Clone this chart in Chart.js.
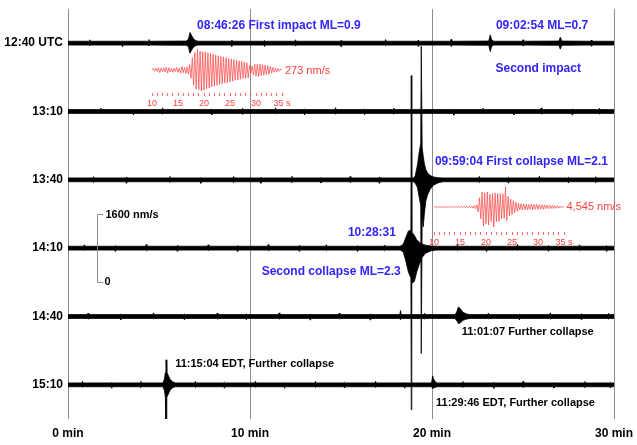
<!DOCTYPE html>
<html lang="en">
<head>
    <meta charset="UTF-8">
    <title>Seismograms, 11 September 2001</title>
    <script src="https://cdn.jsdelivr.net/npm/chart.js@4"></script>
    <style>
        body { margin: 0; background: #fff; }
        #wrap { position: relative; width: 637px; height: 445px; }
        #mainBox { position: absolute; left: 0; top: 0; width: 637px; height: 445px; }
        /* the two red waveform insets sit over the main chart */
        #inset1Box { position: absolute; left: 140px; top: 47px; width: 158px; height: 62px; }
        #inset2Box { position: absolute; left: 422px; top: 182px; width: 158px; height: 66px; }
    </style>
</head>
<body>
<div id="wrap">
    <div id="mainBox"><canvas id="main"></canvas></div>
    <div id="inset1Box"><canvas id="inset1"></canvas></div>
    <div id="inset2Box"><canvas id="inset2"></canvas></div>
</div>

<script>
    // Row start times and x axis ticks
    const rowLabels = ['12:40 UTC', '13:10', '13:40', '14:10', '14:40', '15:10'];
    const minuteTicks = [0, 10, 20, 30];
    const nmPerRow = 1600; // scale bar: 1600 nm/s = one row spacing

    // Trace envelopes: [minute, upper nm/s, lower nm/s]
    const trace1240 = [
        [0, 45, -45], [1.16, 45, -45], [1.2, 80, -55], [1.24, 45, -45],
        [2.96, 45, -45], [3.0, 50, -85], [3.04, 45, -45],
        [4.41, 45, -45], [4.45, 85, -60], [4.49, 45, -45],
        [6.5, 50, -50], [6.62, 95, -85], [6.7, 250, -235], [6.78, 190, -170], [6.88, 110, -100], [7.0, 65, -60], [7.15, 45, -45],
        [8.96, 45, -45], [9.0, 75, -75], [9.04, 45, -45],
        [10.76, 45, -45], [10.8, 60, -80], [10.84, 45, -45],
        [12.46, 45, -45], [12.5, 80, -70], [12.54, 45, -45],
        [14.96, 45, -45], [15.0, 65, -85], [15.04, 45, -45],
        [17.41, 45, -45], [17.45, 85, -60], [17.49, 45, -45],
        [19.21, 45, -45], [19.25, 75, -80], [19.29, 45, -45],
        [21.01, 45, -45], [21.05, 90, -75], [21.09, 45, -45],
        [23.12, 50, -50], [23.2, 195, -195], [23.28, 75, -70], [23.4, 45, -45],
        [24.96, 45, -45], [25.0, 80, -65], [25.04, 45, -45],
        [26.97, 50, -50], [27.05, 140, -140], [27.13, 50, -50],
        [28.71, 45, -45], [28.75, 75, -70], [28.79, 45, -45],
        [30, 45, -45]
    ];
    const trace1310 = [
        [0, 45, -45], [1.76, 45, -45], [1.8, 80, -50], [1.84, 45, -45],
        [3.56, 45, -45], [3.6, 50, -80], [3.64, 45, -45],
        [5.16, 45, -45], [5.2, 85, -60], [5.24, 45, -45],
        [7.86, 45, -45], [7.9, 60, -80], [7.94, 45, -45],
        [9.56, 45, -45], [9.6, 75, -70], [9.64, 45, -45],
        [11.36, 45, -45], [11.4, 85, -55], [11.44, 45, -45],
        [12.96, 45, -45], [13.0, 55, -80], [13.04, 45, -45],
        [14.66, 45, -45], [14.7, 90, -60], [14.74, 45, -45],
        [16.26, 45, -45], [16.3, 60, -75], [16.34, 45, -45],
        [17.86, 45, -45], [17.9, 80, -60], [17.94, 45, -45],
        [21.16, 45, -45], [21.2, 60, -85], [21.24, 45, -45],
        [22.76, 45, -45], [22.8, 80, -55], [22.84, 45, -45],
        [24.46, 45, -45], [24.5, 55, -75], [24.54, 45, -45],
        [25.96, 45, -45], [26.0, 85, -60], [26.04, 45, -45],
        [27.66, 45, -45], [27.7, 60, -80], [27.74, 45, -45],
        [29.16, 45, -45], [29.2, 75, -60], [29.24, 45, -45],
        [30, 45, -45]
    ];
    const trace1340 = [
        [0, 45, -45], [1.36, 45, -45], [1.4, 75, -60], [1.44, 45, -45],
        [3.16, 45, -45], [3.2, 60, -80], [3.24, 45, -45],
        [5.56, 45, -45], [5.6, 80, -55], [5.64, 45, -45],
        [7.26, 45, -45], [7.3, 55, -80], [7.34, 45, -45],
        [9.06, 45, -45], [9.1, 80, -60], [9.14, 45, -45],
        [10.56, 45, -45], [10.6, 60, -80], [10.64, 45, -45],
        [12.26, 45, -45], [12.3, 85, -60], [12.34, 45, -45],
        [13.86, 45, -45], [13.9, 55, -75], [13.94, 45, -45],
        [15.46, 45, -45], [15.5, 80, -60], [15.54, 45, -45],
        [17.06, 45, -45], [17.1, 60, -80], [17.14, 45, -45],
        [19.0, 45, -45], [19.08, 100, -80], [19.2, 350, -180], [19.3, 650, -420], [19.38, 850, -600],
        [19.41, 3130, -4065], [19.43, 3130, -4065],
        [19.46, 750, -850], [19.52, 550, -1100], [19.58, 380, -800], [19.66, 240, -500], [19.76, 160, -350],
        [19.9, 100, -220], [20.1, 65, -120], [20.35, 50, -70], [20.6, 45, -45],
        [22.56, 45, -45], [22.6, 80, -60], [22.64, 45, -45],
        [24.16, 45, -45], [24.2, 55, -80], [24.24, 45, -45],
        [25.86, 45, -45], [25.9, 85, -55], [25.94, 45, -45],
        [27.46, 45, -45], [27.5, 60, -75], [27.54, 45, -45],
        [28.96, 45, -45], [29.0, 75, -60], [29.04, 45, -45],
        [30, 45, -45]
    ];
    const trace1410 = [
        [0, 45, -45], [0.86, 45, -45], [0.9, 80, -55], [0.94, 45, -45],
        [2.56, 45, -45], [2.6, 55, -80], [2.64, 45, -45],
        [4.26, 45, -45], [4.3, 85, -60], [4.34, 45, -45],
        [5.96, 45, -45], [6.0, 60, -75], [6.04, 45, -45],
        [7.66, 45, -45], [7.7, 80, -55], [7.74, 45, -45],
        [9.26, 45, -45], [9.3, 55, -80], [9.34, 45, -45],
        [10.96, 45, -45], [11.0, 85, -60], [11.04, 45, -45],
        [12.66, 45, -45], [12.7, 60, -75], [12.74, 45, -45],
        [14.16, 45, -45], [14.2, 80, -60], [14.24, 45, -45],
        [15.86, 45, -45], [15.9, 55, -80], [15.94, 45, -45],
        [17.36, 45, -45], [17.4, 75, -60], [17.44, 45, -45],
        [18.25, 45, -45], [18.42, 90, -90], [18.56, 250, -300], [18.7, 400, -550], [18.84, 420, -700],
        [18.86, 4040, -3785], [18.88, 4040, -3785],
        [18.9, 380, -820], [19.03, 300, -780], [19.16, 200, -560], [19.3, 140, -380],
        [19.45, 100, -220], [19.65, 70, -120], [19.95, 50, -60], [20.25, 45, -45],
        [21.36, 45, -45], [21.4, 80, -60], [21.44, 45, -45],
        [22.96, 45, -45], [23.0, 55, -80], [23.04, 45, -45],
        [24.66, 45, -45], [24.7, 85, -55], [24.74, 45, -45],
        [26.36, 45, -45], [26.4, 60, -75], [26.44, 45, -45],
        [28.06, 45, -45], [28.1, 80, -60], [28.14, 45, -45],
        [29.56, 45, -45], [29.6, 60, -80], [29.64, 45, -45],
        [30, 45, -45]
    ];
    const trace1440 = [
        [0, 45, -45], [1.06, 45, -45], [1.1, 80, -60], [1.14, 45, -45],
        [2.86, 45, -45], [2.9, 60, -80], [2.94, 45, -45],
        [4.66, 45, -45], [4.7, 85, -55], [4.74, 45, -45],
        [6.36, 45, -45], [6.4, 55, -80], [6.44, 45, -45],
        [8.16, 45, -45], [8.2, 80, -60], [8.24, 45, -45],
        [9.76, 45, -45], [9.8, 60, -75], [9.84, 45, -45],
        [11.56, 45, -45], [11.6, 85, -60], [11.64, 45, -45],
        [13.26, 45, -45], [13.3, 55, -80], [13.34, 45, -45],
        [14.86, 45, -45], [14.9, 80, -55], [14.94, 45, -45],
        [16.56, 45, -45], [16.6, 60, -80], [16.64, 45, -45],
        [18.23, 45, -45], [18.27, 140, -75], [18.31, 45, -45],
        [19.56, 45, -45], [19.6, 75, -60], [19.64, 45, -45],
        [21.25, 45, -45], [21.35, 95, -85], [21.45, 225, -165], [21.55, 185, -155], [21.7, 100, -90], [21.9, 60, -60], [22.1, 45, -45],
        [23.06, 45, -45], [23.1, 80, -55], [23.14, 45, -45],
        [24.76, 45, -45], [24.8, 55, -80], [24.84, 45, -45],
        [26.46, 45, -45], [26.5, 85, -60], [26.54, 45, -45],
        [28.16, 45, -45], [28.2, 60, -75], [28.24, 45, -45],
        [29.66, 45, -45], [29.7, 75, -60], [29.74, 45, -45],
        [30, 45, -45]
    ];
    const trace1510 = [
        [0, 45, -45], [0.76, 45, -45], [0.8, 80, -55], [0.84, 45, -45],
        [2.36, 45, -45], [2.4, 55, -80], [2.44, 45, -45],
        [3.96, 45, -45], [4.0, 85, -60], [4.04, 45, -45],
        [5.22, 45, -45], [5.3, 140, -140], [5.35, 290, -290], [5.38, 585, -855], [5.4, 585, -855],
        [5.43, 300, -290], [5.5, 230, -230], [5.6, 130, -130], [5.75, 70, -70], [5.9, 45, -45],
        [6.96, 45, -45], [7.0, 80, -60], [7.04, 45, -45],
        [8.56, 45, -45], [8.6, 60, -80], [8.64, 45, -45],
        [10.26, 45, -45], [10.3, 85, -55], [10.34, 45, -45],
        [11.86, 45, -45], [11.9, 55, -80], [11.94, 45, -45],
        [13.56, 45, -45], [13.6, 80, -60], [13.64, 45, -45],
        [15.16, 45, -45], [15.2, 60, -75], [15.24, 45, -45],
        [16.86, 45, -45], [16.9, 85, -60], [16.94, 45, -45],
        [18.46, 45, -45], [18.5, 55, -80], [18.54, 45, -45],
        [19.97, 45, -45], [20.04, 210, -85], [20.08, 140, -75], [20.2, 60, -55], [20.3, 45, -45],
        [21.66, 45, -45], [21.7, 80, -55], [21.74, 45, -45],
        [23.36, 45, -45], [23.4, 60, -80], [23.44, 45, -45],
        [24.96, 45, -45], [25.0, 85, -60], [25.04, 45, -45],
        [26.66, 45, -45], [26.7, 55, -75], [26.74, 45, -45],
        [28.36, 45, -45], [28.4, 80, -60], [28.44, 45, -45],
        [29.76, 45, -45], [29.8, 60, -75], [29.84, 45, -45],
        [30, 45, -45]
    ];
    const traces = [trace1240, trace1310, trace1340, trace1410, trace1440, trace1510];

    // Inset waveforms (nm/s), one sample every 0.25 s from 10 s to 35 s
    const insetStart = 10, insetStep = 0.25;
    const impactWave = [
        0, 20, -15, 25, -20, 30, -35, 25, -20, 30, -25, 35, -40, 30, -25, 20,
        -30, 25, -20, 35, -30, 25, -40, 45, -35, 30, -45, 40, -55, 70, -110, 160,
        -200, 230, -250, 270, -255, 245, -273, 240, -260, 235, -245, 225, -235, 215,
        -220, 205, -210, 195, -200, 185, -190, 175, -180, 170, -170, 160, -165, 150,
        -155, 145, -145, 135, -135, 125, -130, 120, -120, 115, -110, 105, -110, 95,
        -100, 60, -40, 50, -65, 75, -80, 75, -85, 80, -75, 70, -70, 65, -60, 55,
        -55, 45, -40, 35, -30, 25, -25, 20, -15, 10, 0
    ];
    const collapseWave = [
        0, 30, -30, 40, -30, 50, -40, 30, -50, 60, -40, 50, -70, 90, -80, 110,
        -90, 120, -150, 130, -110, 150, -170, 160, -140, 180, -200, 170, -150, 230,
        -260, 320, -380, 500, -1100, 2100, -2700, 3400, -4300, 3200, -3800, 3400,
        -4100, 2900, -3300, 3000, -4545, 3200, -3400, 3100, -3300, 2900, -2700, 3000,
        -2600, 4545, -3100, 2400, -2000, 1800, -1700, 1400, -1300, 1100, -1000, 800,
        -700, 750, -650, 700, -600, 650, -700, 600, -550, 650, -600, 550, -500, 600,
        -550, 500, -450, 500, -500, 450, -400, 450, -400, 380, -350, 400, -350, 300,
        -300, 280, -250, 200, -180, 120, 0
    ];

    const blue = '#3326f5';
    const red = '#ff4040';
    const bold12 = 'bold 12px "Liberation Sans", Arial, sans-serif';
    const bold11 = 'bold 11px "Liberation Sans", Arial, sans-serif';
    const reg11 = '11px "Liberation Sans", Arial, sans-serif';

    // Text placed in chart units: m = minutes, r = row
    const notes = [
        { text: '08:46:26 First impact ML=0.9', m: 7.09, r: -0.25, color: blue, font: bold12 },
        { text: '09:02:54 ML=0.7', m: 23.51, r: -0.25, color: blue, font: bold12 },
        { text: 'Second impact', m: 23.49, r: 0.38, color: blue, font: bold12 },
        { text: '273 nm/s', m: 11.92, r: 0.40, color: red, font: reg11 },
        { text: '09:59:04 First collapse ML=2.1', m: 20.16, r: 1.74, color: blue, font: bold12 },
        { text: '4,545 nm/s', m: 27.39, r: 2.40, color: red, font: reg11 },
        { text: '10:28:31', m: 15.38, r: 2.77, color: blue, font: bold12 },
        { text: 'Second collapse ML=2.3', m: 10.64, r: 3.35, color: blue, font: bold12 },
        { text: '1600 nm/s', m: 2.06, r: 2.51, color: '#000', font: bold11 },
        { text: '0', m: 2.01, r: 3.50, color: '#000', font: bold11 },
        { text: '11:01:07 Further collapse', m: 21.63, r: 4.23, color: '#000', font: bold11 },
        { text: '11:15:04 EDT, Further collapse', m: 5.89, r: 4.69, color: '#000', font: bold11 },
        { text: '11:29:46 EDT, Further collapse', m: 20.22, r: 5.26, color: '#000', font: bold11 }
    ];

    const datasets = [];
    traces.forEach((tr, row) => {
        datasets.push({
            data: tr.map(p => ({ x: p[0], y: row - p[1] / nmPerRow })),
            borderColor: '#000', backgroundColor: '#000', borderWidth: 0.8, fill: '+1'
        });
        datasets.push({
            data: tr.map(p => ({ x: p[0], y: row - p[2] / nmPerRow })),
            borderColor: '#000', borderWidth: 0.8, fill: false
        });
    });

    const annotate = {
        id: 'annotate',
        afterDatasetsDraw(chart) {
            const { ctx, scales: { x, y } } = chart;
            ctx.save();
            // amplitude scale bar
            const bx = Math.round(x.getPixelForValue(1.6)) + 0.5;
            const bt = Math.round(y.getPixelForValue(2.5)) + 0.5;
            const bb = Math.round(y.getPixelForValue(3.5)) + 0.5;
            const bend = x.getPixelForValue(1.94);
            ctx.strokeStyle = '#8c8c8c';
            ctx.lineWidth = 1;
            ctx.beginPath();
            ctx.moveTo(bend, bt); ctx.lineTo(bx, bt); ctx.lineTo(bx, bb); ctx.lineTo(bend, bb);
            ctx.stroke();
            ctx.textAlign = 'left';
            ctx.textBaseline = 'middle';
            notes.forEach(n => {
                ctx.font = n.font;
                ctx.fillStyle = n.color;
                ctx.fillText(n.text, x.getPixelForValue(n.m), y.getPixelForValue(n.r));
            });
            ctx.restore();
        }
    };

    new Chart(document.getElementById('main'), {
        type: 'line',
        data: { datasets },
        options: {
            responsive: true,
            maintainAspectRatio: false,
            animation: false,
            layout: { padding: { left: 0, right: 23, top: 9, bottom: 0 } },
            elements: { point: { radius: 0 }, line: { tension: 0 } },
            plugins: { legend: { display: false }, tooltip: { enabled: false } },
            scales: {
                x: {
                    type: 'linear', min: 0, max: 30,
                    afterBuildTicks: s => { s.ticks = minuteTicks.map(v => ({ value: v })); },
                    afterFit: s => { s.height = 26; s.paddingLeft = 0; s.paddingRight = 0; },
                    ticks: {
                        callback: v => v + ' min', maxRotation: 0, padding: 7, color: '#000',
                        font: { family: '"Liberation Sans", Arial, sans-serif', size: 12, weight: 'bold' }
                    },
                    grid: { color: '#8c8c8c', lineWidth: 1, drawTicks: false },
                    border: { display: false }
                },
                y: {
                    type: 'linear', min: -0.5, max: 5.5, reverse: true,
                    afterBuildTicks: s => { s.ticks = rowLabels.map((_, i) => ({ value: i })); },
                    afterFit: s => { s.width = 68; s.paddingTop = 0; s.paddingBottom = 0; },
                    ticks: {
                        callback: v => rowLabels[v], padding: 5, color: '#000',
                        font: { family: '"Liberation Sans", Arial, sans-serif', size: 12, weight: 'bold' }
                    },
                    grid: { display: false, drawTicks: false },
                    border: { display: false }
                }
            }
        },
        plugins: [annotate]
    });

    // small red waveform inset with its own seconds axis
    function makeInset(id, wave, yMax) {
        new Chart(document.getElementById(id), {
            type: 'line',
            data: {
                datasets: [{
                    data: wave.map((v, i) => ({ x: insetStart + i * insetStep, y: v })),
                    borderColor: red, borderWidth: 0.7, pointRadius: 0, tension: 0, fill: false
                }]
            },
            options: {
                responsive: true,
                maintainAspectRatio: false,
                animation: false,
                layout: { padding: { left: 12, right: 16, top: 0, bottom: 0 } },
                plugins: { legend: { display: false }, tooltip: { enabled: false } },
                scales: {
                    x: {
                        type: 'linear', min: 10, max: 35,
                        afterFit: s => { s.height = 16; s.paddingLeft = 0; s.paddingRight = 0; },
                        ticks: {
                            stepSize: 1, autoSkip: false, maxRotation: 0, padding: 2, color: red,
                            callback: v => v % 5 === 0 ? (v === 35 ? '35 s' : String(v)) : '',
                            font: { family: '"Liberation Sans", Arial, sans-serif', size: 9 }
                        },
                        grid: { drawOnChartArea: false, tickLength: 3, color: red, lineWidth: 0.8 },
                        border: { display: false }
                    },
                    y: { display: false, min: -yMax, max: yMax }
                }
            }
        });
    }

    makeInset('inset1', impactWave, 300);
    makeInset('inset2', collapseWave, 5680);
</script>
</body>
</html>
